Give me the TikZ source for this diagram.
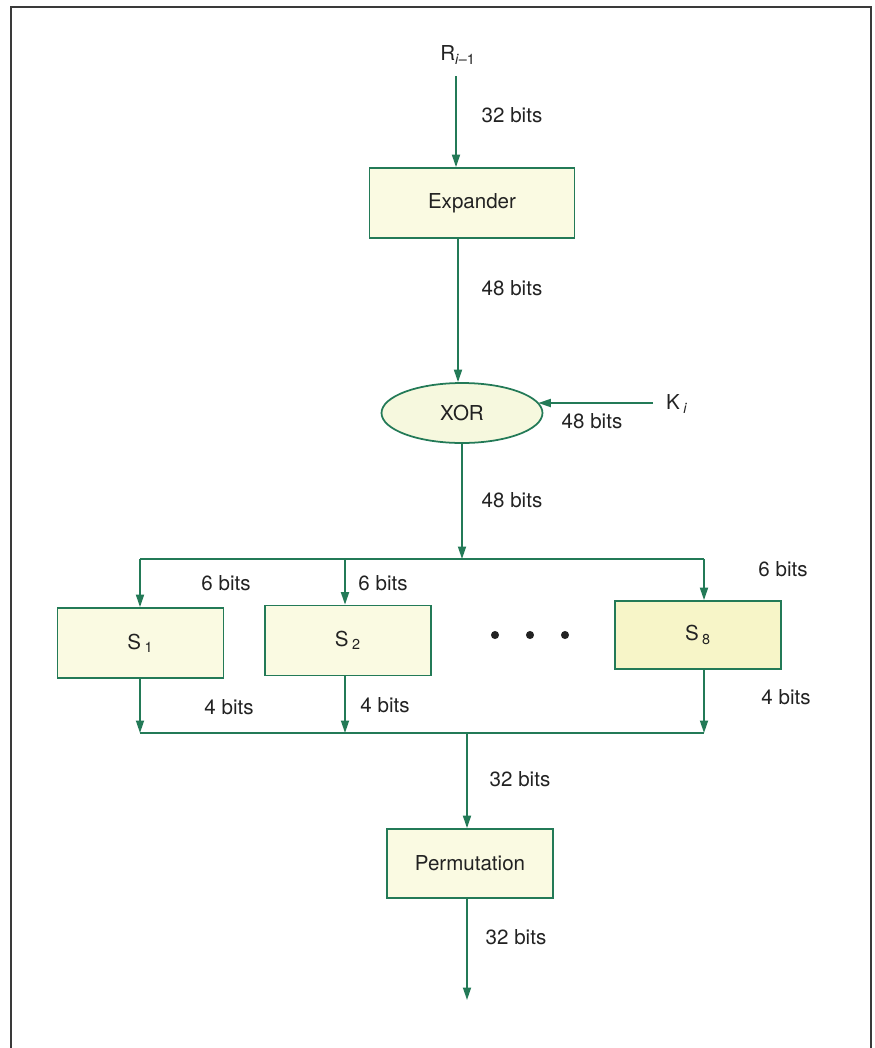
\documentclass[tikz,border=0pt]{standalone}
\usepackage{fontspec}
\setmainfont{TeX Gyre Heros}
\usetikzlibrary{arrows.meta,positioning,shapes.geometric}

\begin{document}
\begin{tikzpicture}[
    % one unit = one pixel of the page, y pointing down
    x=0.02cm, y=-0.02cm,
    >={Triangle[length=2.5mm,width=1.6mm]},
    every node/.style={font=\fontsize{11.7}{14}\selectfont, text=textColor},
    block/.style={draw=lineColor, line width=1pt, fill=boxColor, minimum width=3.32cm, minimum height=1.4cm, inner sep=0pt},
    flow/.style={->, draw=lineColor, line width=1pt},
    wire/.style={draw=lineColor, line width=1pt},
    bits/.style={inner sep=0pt}
    ]
    
    % Colors
    \definecolor{lineColor}{HTML}{237A57}
    \definecolor{boxColor}{HTML}{FAFAE2}
    \definecolor{sboxColor}{HTML}{F7F5C8}
    \definecolor{xorColor}{HTML}{F6F8DE}
    \definecolor{textColor}{HTML}{222222}
    \definecolor{frameColor}{HTML}{3A3A3A}
    
    \useasboundingbox (0,0) rectangle (875,1048);
    
    % Frame (open at the bottom)
    \draw[frameColor, line width=1.1pt] (11,1048) -- (11,7) -- (871,7) -- (871,1048);
    
    % Coordinates
    \coordinate (rtop)   at (456,76);
    \coordinate (spine)  at (458,0);
    \coordinate (kstart) at (653,403);
    \coordinate (busA)   at (140,559);
    \coordinate (busB)   at (345,559);
    \coordinate (busH)   at (704,559);
    \coordinate (sumA)   at (140,733);
    \coordinate (sumB)   at (345,733);
    \coordinate (sumH)   at (704,733);
    \coordinate (sumOut) at (467,733);
    \coordinate (out)    at (467,1000);
    
    % Blocks
    \node[block, minimum width=4.1cm] (expander) at (472,203) {Expander};
    \node[ellipse, draw=lineColor, line width=1pt, fill=xorColor, minimum width=3.22cm, minimum height=1.2cm, inner sep=0pt] (xor) at (462,413) {XOR};
    \node[block] (s1) at (140.5,643) {S\,\textsubscript{1}};
    \node[block] (s2) at (348,640.5) {S\,\textsubscript{2}};
    \node[block, fill=sboxColor, minimum height=1.36cm] (s8) at (698,635) {S\,\textsubscript{8}};
    \node[block, minimum height=1.38cm] (perm) at (470,863.5) {Permutation};
    
    % Inputs
    \node (rin) at (458,55) {R\textsubscript{\textit{i}\textendash1}};
    \node[anchor=west] (kin) at (660,404) {K\,\textsubscript{\textit{i}}};
    
    % Dots between the S-boxes
    \foreach \x in {495,530,565}
        \fill[textColor] (\x,635) circle (2.3pt);
    
    % Flow
    \draw[flow] (rtop) -- (rtop |- expander.north);
    \draw[flow] (expander.south -| spine) -- (xor.north -| spine);
    \draw[flow] (kstart) -- (kstart -| xor.8);
    \draw[flow] (xor.south) -- (xor.south |- busA);
    
    \draw[wire] (busA) -- (busH);
    \draw[flow] (busA) -- (busA |- s1.north);
    \draw[flow] (busB) -- (busB |- s2.north);
    \draw[flow] (busH) -- (busH |- s8.north);
    
    \draw[flow] (s1.south -| sumA) -- (sumA);
    \draw[flow] (s2.south -| sumB) -- (sumB);
    \draw[flow] (s8.south -| sumH) -- (sumH);
    \draw[wire] (sumA) -- (sumH);
    
    \draw[flow] (sumOut) -- (sumOut |- perm.north);
    \draw[flow] (perm.south -| out) -- (out);
    
    % Widths
    \node[bits] (w1)  at (512,115) {32 bits};
    \node[bits] (w2)  at (512,288) {48 bits};
    \node[bits] (w3)  at (592,421) {48 bits};
    \node[bits] (w4)  at (512,500) {48 bits};
    \node[bits] (w5)  at (226,583) {6 bits};
    \node[bits] (w6)  at (383,583) {6 bits};
    \node[bits] (w7)  at (783,569) {6 bits};
    \node[bits] (w8)  at (229,707) {4 bits};
    \node[bits] (w9)  at (385,705) {4 bits};
    \node[bits] (w10) at (786,697) {4 bits};
    \node[bits] (w11) at (520,779) {32 bits};
    \node[bits] (w12) at (516,937) {32 bits};
\end{tikzpicture}
\end{document}
